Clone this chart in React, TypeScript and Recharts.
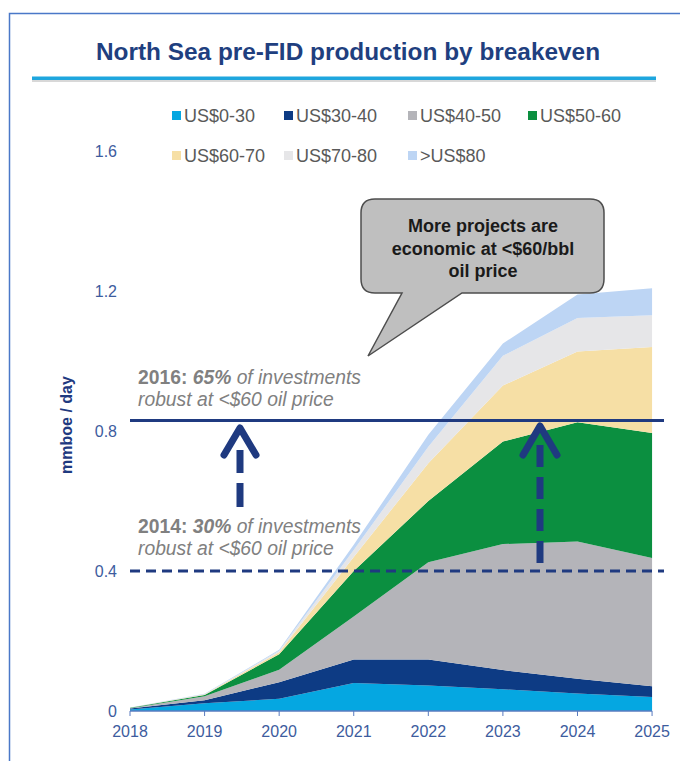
import { AreaChart, Area, XAxis, YAxis, ReferenceLine } from 'recharts';

// production by breakeven band, mmboe/day
const years = [2018, 2019, 2020, 2021, 2022, 2023, 2024, 2025];
const band0to30 = [0.004, 0.022, 0.035, 0.08, 0.073, 0.062, 0.05, 0.04];
const band30to40 = [0.003, 0.009, 0.047, 0.067, 0.074, 0.055, 0.042, 0.031];
const band40to50 = [0.001, 0.011, 0.036, 0.123, 0.278, 0.36, 0.392, 0.366];
const band50to60 = [0.001, 0.004, 0.044, 0.13, 0.175, 0.293, 0.341, 0.357];
const band60to70 = [0, 0.001, 0.006, 0.04, 0.108, 0.16, 0.202, 0.246];
const band70to80 = [0.001, 0.001, 0.004, 0.02, 0.047, 0.085, 0.096, 0.091];
const band80plus = [0, 0.001, 0.003, 0.015, 0.034, 0.035, 0.067, 0.077];

const yTicks = [0, 0.4, 0.8, 1.2, 1.6];
const level2014 = 0.4;
const level2016 = 0.83;

const series = [
  { key: 'b0', name: 'US$0-30', color: '#05A7E1', values: band0to30 },
  { key: 'b30', name: 'US$30-40', color: '#0D3B84', values: band30to40 },
  { key: 'b40', name: 'US$40-50', color: '#B4B4B9', values: band40to50 },
  { key: 'b50', name: 'US$50-60', color: '#0B8F40', values: band50to60 },
  { key: 'b60', name: 'US$60-70', color: '#F6DFA5', values: band60to70 },
  { key: 'b70', name: 'US$70-80', color: '#E6E6E8', values: band70to80 },
  { key: 'b80', name: '>US$80', color: '#BDD5F4', values: band80plus },
];

const data = years.map((year, i) => {
  const row: Record<string, number> = { year };
  series.forEach((s) => {
    row[s.key] = s.values[i];
  });
  return row;
});

const navy = '#1F3A80';
const axisBlue = '#3D5C9E';
const font = 'Liberation Sans, Arial, sans-serif';

const legendCols = [184, 296, 420, 540];
const legendRows = [122, 162];

const Overlay = () => (
  <svg
    width={680}
    height={761}
    style={{ position: 'absolute', left: 0, top: 0, pointerEvents: 'none' }}
    fontFamily={font}
  >
    <path d="M 9.5 761 V 13.5 H 680" fill="none" stroke="#4A78C8" strokeWidth={1.5} />
    <text x={348} y={60} textAnchor="middle" fontSize={24.4} fontWeight="bold" fill="#1F3F7F">
      North Sea pre-FID production by breakeven
    </text>
    <rect x={32} y={80} width={624} height={2} fill="#d8d8d8" />
    <rect x={32} y={76.5} width={624} height={3.5} fill="#1EA6DE" />

    {series.map((s, i) => {
      const x = legendCols[i % 4];
      const y = legendRows[Math.floor(i / 4)];
      return (
        <g key={s.key}>
          <rect x={x - 12} y={y - 11} width={9} height={9} fill={s.color} />
          <text x={x} y={y} fontSize={18} fill="#595959">
            {s.name}
          </text>
        </g>
      );
    })}

    <text
      x={66}
      y={425}
      transform="rotate(-90, 66, 425)"
      textAnchor="middle"
      dominantBaseline="central"
      fontSize={16}
      fontWeight="bold"
      fill={navy}
    >
      mmboe / day
    </text>

    <path
      d="M 375 199 H 590 Q 604 199 604 213 V 279 Q 604 293 590 293 H 462 L 368 356 L 402 293 H 375 Q 361 293 361 279 V 213 Q 361 199 375 199 Z"
      fill="#BFBFBF"
      stroke="#4D4D4D"
      strokeWidth={1.5}
    />
    <g fontSize={18} fontWeight="bold" fill="#1A1A1A" textAnchor="middle">
      <text x={483} y={232}>More projects are</text>
      <text x={483} y={255}>economic at &lt;$60/bbl</text>
      <text x={483} y={277}>oil price</text>
    </g>

    <g fontSize={19.3} fill="#808080" fontStyle="italic">
      <text x={138} y={384}>
        <tspan fontWeight="bold" fontStyle="normal">2016:</tspan>
        <tspan fontWeight="bold"> 65%</tspan>
        <tspan> of investments</tspan>
      </text>
      <text x={138} y={406}>robust at &lt;$60 oil price</text>
      <text x={138} y={533}>
        <tspan fontWeight="bold" fontStyle="normal">2014:</tspan>
        <tspan fontWeight="bold"> 30%</tspan>
        <tspan> of investments</tspan>
      </text>
      <text x={138} y={555}>robust at &lt;$60 oil price</text>
    </g>

    <g stroke={navy} fill="none" strokeWidth={7}>
      <line x1={240} y1={507} x2={240} y2={450} strokeDasharray="24 10" />
      <polyline points="224,455 240,428 256,455" strokeLinecap="round" strokeLinejoin="round" />
      <line x1={540} y1={563} x2={540} y2={443} strokeDasharray="22 10" />
      <polyline points="523,455 540,426 557,455" strokeLinecap="round" strokeLinejoin="round" />
    </g>
  </svg>
);

export default function App() {
  return (
    <div
      style={{ position: 'absolute', left: 0, top: 0, width: 680, height: 761, background: '#fff' }}
    >
      <AreaChart
        width={680}
        height={761}
        data={data}
        margin={{ top: 151, right: 16, bottom: 0, left: 0 }}
      >
        <XAxis
          dataKey="year"
          type="number"
          domain={[2018, 2025.16]}
          ticks={years}
          height={50}
          axisLine={false}
          tickLine={{ stroke: '#5A7BBF' }}
          tickSize={5}
          tickMargin={10}
          tick={{ fill: axisBlue, fontSize: 16, fontFamily: font }}
        />
        <YAxis
          width={130}
          domain={[0, 1.6]}
          ticks={yTicks}
          axisLine={false}
          tickLine={false}
          tickMargin={7}
          tick={{ fill: axisBlue, fontSize: 16, fontFamily: font }}
          tickFormatter={(v: number) => (v === 0 ? '0' : v.toFixed(1))}
        />
        {series.map((s) => (
          <Area
            key={s.key}
            type="linear"
            dataKey={s.key}
            name={s.name}
            stackId="1"
            stroke="none"
            fill={s.color}
            fillOpacity={1}
            isAnimationActive={false}
          />
        ))}
        <ReferenceLine
          segment={[
            { x: 2018, y: 0 },
            { x: 2025, y: 0 },
          ]}
          stroke="#5A7BBF"
          strokeWidth={1.5}
        />
        <ReferenceLine y={level2016} stroke={navy} strokeWidth={3} />
        <ReferenceLine y={level2014} stroke={navy} strokeWidth={3} strokeDasharray="10 6" />
      </AreaChart>
      <Overlay />
    </div>
  );
}
